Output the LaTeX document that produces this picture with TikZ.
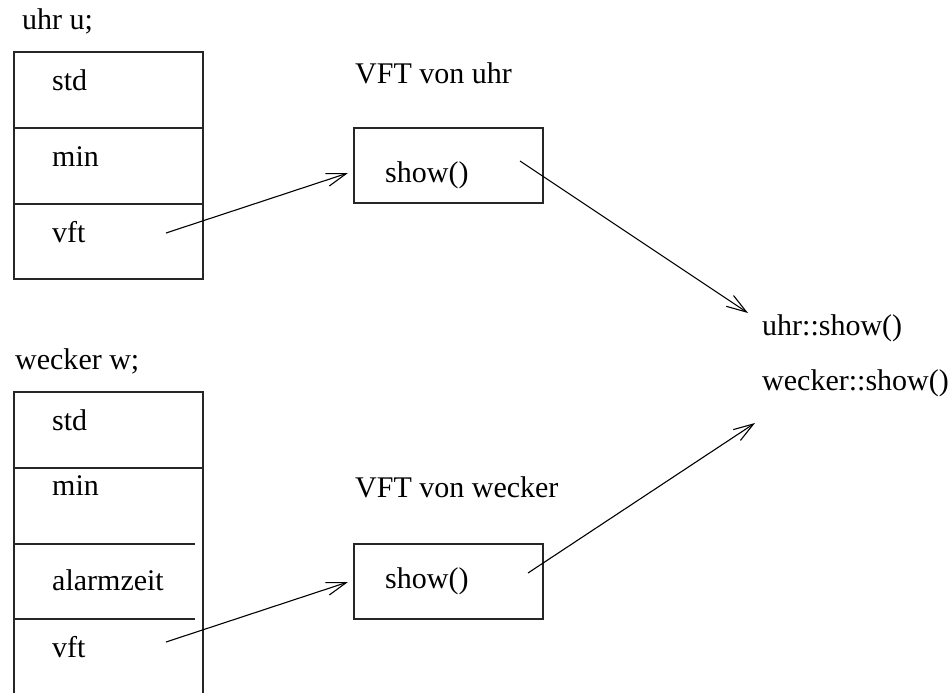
\documentclass[tikz,border=0pt]{standalone}
\usepackage{fontspec}
\setmainfont{Liberation Serif}
\usetikzlibrary{arrows.meta}
\begin{document}
\begin{tikzpicture}[x=1pt,y=-1pt,
  frame/.style={draw=black!85,line width=1.3pt},
  cell/.style={frame,rectangle,inner sep=0pt},
  lbl/.style={anchor=base west,inner sep=0pt,font=\fontsize{30}{36}\selectfont},
  ptr/.style={draw=black,line width=1.1pt,-{Straight Barb[length=20pt,width=13pt,line width=1.1pt]}}]
\useasboundingbox (0,0) rectangle (952,693);

% object u of class uhr
\node[lbl] (uhrname) at (22,30) {uhr u;};
\node[cell,minimum width=189pt,minimum height=227pt] (uhrobj) at (108.5,165.5) {};
\draw[frame] (uhrobj.west |- 0,128) -- (uhrobj.east |- 0,128);
\draw[frame] (uhrobj.west |- 0,204) -- (uhrobj.east |- 0,204);
\node[lbl] (ustd) at (52,90) {std};
\node[lbl] (umin) at (52,166) {min};
\node[lbl] (uvft) at (52,242) {vft};

% object w of class wecker (runs off the bottom edge)
\node[lbl] (weckername) at (15,369) {wecker w;};
\draw[frame] (14,693) -- (14,392) -- (203,392) -- (203,693);
\draw[frame] (14,468) -- (203,468);
\draw[frame] (14,544) -- (195,544);
\draw[frame] (14,619) -- (195,619);
\node[lbl] (wstd) at (52,430) {std};
\node[lbl] (wmin) at (52,495) {min};
\node[lbl] (walarm) at (52,590) {alarmzeit};
\node[lbl] (wvft) at (52,657) {vft};

% virtual function tables
\node[lbl] (vftuname) at (355,83) {VFT von uhr};
\node[cell,minimum width=189pt,minimum height=75pt] (vftu) at (448.5,165.5) {};
\node[lbl] (ushow) at (385,182) {show()};

\node[lbl] (vftwname) at (355,497) {VFT von wecker};
\node[cell,minimum width=189pt,minimum height=75pt] (vftw) at (448.5,581.5) {};
\node[lbl] (wshow) at (385,588) {show()};

% method implementations
\node[lbl] (uhrshow) at (762,335) {uhr::show()};
\node[lbl] (weckershow) at (762,390) {wecker::show()};

% pointer ends
\coordinate (p1s) at (166,233);
\coordinate (p1e) at (348,173);
\coordinate (p2s) at (520,161);
\coordinate (p2e) at (748,313);
\coordinate (p3s) at (166,642);
\coordinate (p3e) at (348,582);
\coordinate (p4s) at (528,573);
\coordinate (p4e) at (755,423);

\draw[ptr] (p1s) -- (p1e);
\draw[ptr] (p2s) -- (p2e);
\draw[ptr] (p3s) -- (p3e);
\draw[ptr] (p4s) -- (p4e);
\end{tikzpicture}
\end{document}
